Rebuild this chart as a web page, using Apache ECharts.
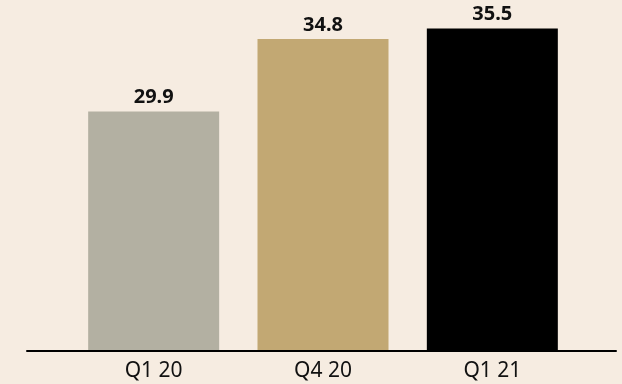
<!DOCTYPE html>
<html>
<head>
<meta charset="utf-8">
<style>
  html, body { margin: 0; padding: 0; background: #f6ece1; }
  #chart { width: 622px; height: 384px; }
</style>
<script src="https://cdn.jsdelivr.net/npm/echarts@6/dist/echarts.min.js"></script>
</head>
<body>
<div id="chart"></div>
<script>
// Quarterly values shown above each bar
const quarters = ['Q1 20', 'Q4 20', 'Q1 21'];
const values = [29.9, 34.8, 35.5];
const barColors = ['#b3b0a2', '#c2a873', '#000000'];

const chart = echarts.init(document.getElementById('chart'), null, { renderer: 'canvas' });

const fontFamily = '"Noto Sans", "Open Sans", sans-serif';

chart.setOption({
  backgroundColor: '#f6ece1',
  animation: false,
  grid: [
    { left: 69, right: 45, top: 0, bottom: 34 },
    // wide baseline spanning nearly the full width
    { left: 27, right: 6, top: 0, bottom: 33 }
  ],
  xAxis: [
    {
      type: 'category',
      gridIndex: 0,
      data: quarters,
      axisLine: { show: false },
      axisTick: { show: false },
      axisLabel: {
        color: '#111',
        fontFamily: fontFamily,
        fontSize: 21,
        margin: 11
      }
    },
    {
      type: 'value',
      gridIndex: 1,
      min: 0,
      max: 1,
      axisLine: { show: true, onZero: false, lineStyle: { color: '#000', width: 2 } },
      axisTick: { show: false },
      axisLabel: { show: false },
      splitLine: { show: false }
    }
  ],
  yAxis: [
    {
      type: 'value',
      gridIndex: 0,
      min: 13.8,
      max: 37.43,
      show: false,
      splitLine: { show: false }
    },
    {
      type: 'value',
      gridIndex: 1,
      show: false,
      splitLine: { show: false }
    }
  ],
  series: [
    {
      type: 'bar',
      xAxisIndex: 0,
      yAxisIndex: 0,
      barWidth: 131,
      data: values.map((v, i) => ({ value: v, itemStyle: { color: barColors[i] } })),
      label: {
        show: true,
        position: 'top',
        distance: 4,
        color: '#111',
        fontFamily: fontFamily,
        fontWeight: 'bold',
        fontSize: 20,
        formatter: p => p.value.toFixed(1)
      }
    }
  ]
});
</script>
</body>
</html>
